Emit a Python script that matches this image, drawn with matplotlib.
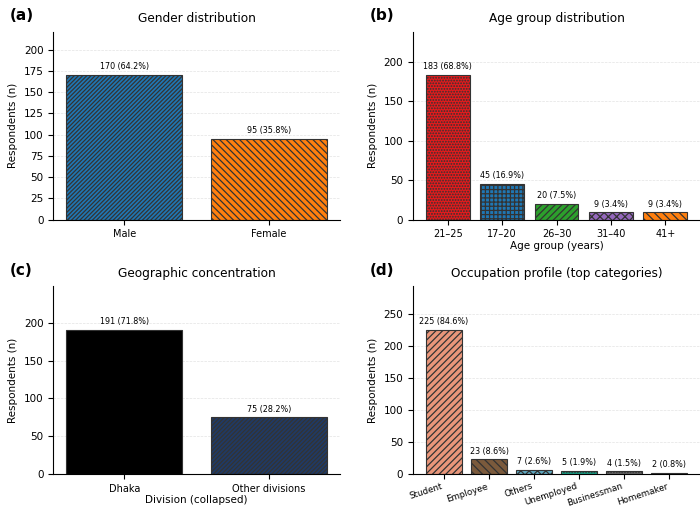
import matplotlib
matplotlib.use("Agg")
import matplotlib.pyplot as plt
from matplotlib.ticker import MultipleLocator

# data
gender_labels = ["Male", "Female"]
gender_counts = [170, 95]
gender_pct = [64.2, 35.8]

age_labels = ["21\u201325", "17\u201320", "26\u201330", "31\u201340", "41+"]
age_counts = [183, 45, 20, 9, 9]
age_pct = [68.8, 16.9, 7.5, 3.4, 3.4]

div_labels = ["Dhaka", "Other divisions"]
div_counts = [191, 75]
div_pct = [71.8, 28.2]

occ_labels = ["Student", "Employee", "Others", "Unemployed", "Businessman", "Homemaker"]
occ_counts = [225, 23, 7, 5, 4, 2]
occ_pct = [84.6, 8.6, 2.6, 1.9, 1.5, 0.8]

plt.rcParams["hatch.linewidth"] = 0.9

fig, axes = plt.subplots(2, 2, figsize=(7, 5.07), dpi=100)
fig.subplots_adjust(left=0.076, right=1.0, top=0.937, bottom=0.065,
                    wspace=0.254, hspace=0.356)


def panel(ax, labels, counts, pct, colors, hatches, title, tag, step,
          xlabel=None, rot=0):
    x = range(len(labels))
    bars = ax.bar(x, counts, color=colors, edgecolor="#333333", linewidth=0.8)
    for b, h in zip(bars, hatches):
        b.set_hatch(h)
    ax.set_xticks(list(x))
    if rot:
        ax.set_xticklabels(labels, rotation=rot, ha="right", fontsize=6.3)
        ax.tick_params(axis="x", pad=2)
    else:
        ax.set_xticklabels(labels, fontsize=7)
    ax.tick_params(axis="y", labelsize=7.5)
    ax.yaxis.set_major_locator(MultipleLocator(step))
    top = max(counts) * 1.3
    ax.set_ylim(0, top)
    ax.set_ylabel("Respondents (n)", fontsize=7.5)
    if xlabel:
        ax.set_xlabel(xlabel, fontsize=7.5, labelpad=1)
    ax.set_title(title, fontsize=8.7, pad=7)
    ax.text(-0.15, 1.085, tag, transform=ax.transAxes, fontsize=11,
            fontweight="bold", ha="left", va="center")
    ax.grid(axis="y", linestyle="--", linewidth=0.5, alpha=0.35)
    ax.set_axisbelow(True)
    ax.spines["top"].set_visible(False)
    ax.spines["right"].set_visible(False)
    for b, c, p in zip(bars, counts, pct):
        ax.text(b.get_x() + b.get_width() / 2, c + top * 0.02,
                f"{c} ({p}%)", ha="center", va="bottom", fontsize=5.8)


panel(axes[0, 0], gender_labels, gender_counts, gender_pct,
      ["#1f77b4", "#ff7f0e"], ["////////", "\\\\\\\\\\"],
      "Gender distribution", "(a)", 25)
panel(axes[0, 1], age_labels, age_counts, age_pct,
      ["#e41a1c", "#1f77b4", "#2ca02c", "#9467bd", "#ff7f0e"],
      ["......", "++++", "/////", "xxxx", "\\\\\\\\"],
      "Age group distribution", "(b)", 50, xlabel="Age group (years)")
panel(axes[1, 0], div_labels, div_counts, div_pct,
      ["#000000", "#1f3a66"], ["", "////////"],
      "Geographic concentration", "(c)", 50, xlabel="Division (collapsed)")
panel(axes[1, 1], occ_labels, occ_counts, occ_pct,
      ["#e9967a", "#7b5a3c", "#5fa8c0", "#17a085", "#666666", "#222222"],
      ["/////", "\\\\\\\\", "xxxx", "......", "......", ""],
      "Occupation profile (top categories)", "(d)", 50, rot=18)

fig.savefig("out.png", dpi=100)
